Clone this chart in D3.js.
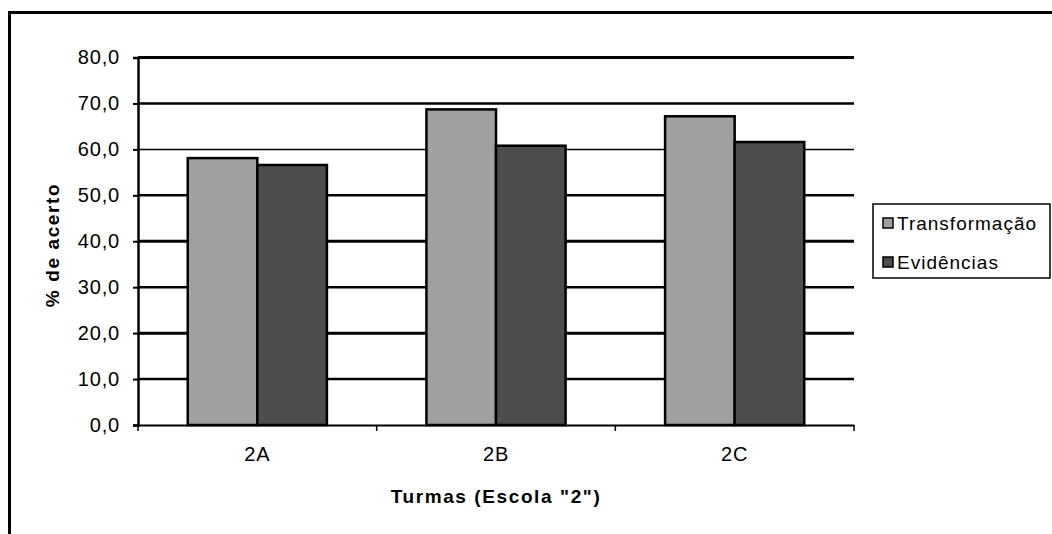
<!DOCTYPE html>
<html>
<head>
<meta charset="utf-8">
<script src="https://cdn.jsdelivr.net/npm/d3@7"></script>
<style>
  body { margin: 0; background: #fff; }
  text { font-family: "Liberation Sans", Arial, sans-serif; }
</style>
</head>
<body>
<div id="chart"></div>
<script>
const turmas = ["2A", "2B", "2C"];
const series = ["Transformação", "Evidências"];
const transformacao = [58.1, 68.7, 67.2];
const evidencias = [56.6, 60.8, 61.6];
const yTicks = [0, 10, 20, 30, 40, 50, 60, 70, 80];

const colors = { "Transformação": "#a0a0a0", "Evidências": "#4d4d4d" };

const W = 1052, H = 534;
const margin = { top: 57.5, right: 198, bottom: 109, left: 138 };
const width = W - margin.left - margin.right,
  height = H - margin.top - margin.bottom;

const svg = d3.select("#chart").append("svg")
  .attr("width", W).attr("height", H);

// outer frame (only top and left edges visible)
svg.append("rect")
  .attr("x", 9.5).attr("y", 12.5)
  .attr("width", 1200).attr("height", 700)
  .attr("fill", "none").attr("stroke", "#000").attr("stroke-width", 3);

const g = svg.append("g")
  .attr("transform", "translate(" + margin.left + "," + margin.top + ")");

const y = d3.scaleLinear().domain([0, 80]).range([height, 0]);
const x0 = d3.scaleBand().domain(turmas).range([0, width]).padding(0);
const x1 = d3.scaleBand().domain(series).range([0, x0.bandwidth()])
  .paddingInner(0).paddingOuter(0.715);

// gridlines
g.append("g").selectAll("line")
  .data(yTicks.filter((d) => d > 0))
  .enter().append("line")
  .attr("x1", 0).attr("x2", width)
  .attr("y1", (d) => y(d)).attr("y2", (d) => y(d))
  .attr("stroke", "#000")
  .attr("stroke-width", (d) => (d === 60 ? 1.5 : d % 20 === 0 ? 3 : 2.5));

// bars
const rows = turmas.map((t, i) => ({
  turma: t,
  vals: [
    { key: series[0], value: transformacao[i] },
    { key: series[1], value: evidencias[i] },
  ],
}));

g.append("g").selectAll("g")
  .data(rows).enter().append("g")
  .attr("transform", (d) => "translate(" + x0(d.turma) + ",0)")
  .selectAll("rect")
  .data((d) => d.vals).enter().append("rect")
  .attr("x", (d) => x1(d.key))
  .attr("y", (d) => y(d.value))
  .attr("width", x1.bandwidth())
  .attr("height", (d) => height - y(d.value))
  .attr("fill", (d) => colors[d.key])
  .attr("stroke", "#000").attr("stroke-width", 2.5);

// y axis
const yAxis = g.append("g")
  .call(d3.axisLeft(y).tickValues(yTicks).tickSize(5).tickPadding(13)
    .tickFormat((d) => d3.format(".1f")(d).replace(".", ",")));
yAxis.select(".domain").attr("stroke-width", 2.5);
yAxis.selectAll(".tick line").attr("stroke-width", 2);
yAxis.selectAll("text")
  .attr("font-size", 20).attr("fill", "#000")
  .style("letter-spacing", "0.8px");

// x axis
const xAxis = g.append("g")
  .attr("transform", "translate(0," + height + ")")
  .call(d3.axisBottom(x0).tickSize(0).tickPadding(22));
xAxis.select(".domain").attr("stroke-width", 2);
xAxis.selectAll("text")
  .attr("font-size", 20).attr("fill", "#000")
  .style("letter-spacing", "0.8px");
// category boundary ticks
xAxis.append("g").selectAll("line")
  .data(turmas.map((t) => x0(t)).concat([width]))
  .enter().append("line")
  .attr("x1", (d) => d).attr("x2", (d) => d)
  .attr("y1", 0).attr("y2", 6)
  .attr("stroke", "#000").attr("stroke-width", 1.5);

// axis titles
svg.append("text")
  .attr("x", margin.left + width / 2).attr("y", 503)
  .attr("text-anchor", "middle")
  .attr("font-size", 19).attr("font-weight", "bold")
  .style("letter-spacing", "1.6px")
  .text('Turmas (Escola "2")');

svg.append("text")
  .attr("transform", "translate(59,245) rotate(-90)")
  .attr("text-anchor", "middle")
  .attr("font-size", 19).attr("font-weight", "bold")
  .style("letter-spacing", "1.6px")
  .text("% de acerto");

// legend
const legend = svg.append("g").attr("transform", "translate(873,204)");
legend.append("rect")
  .attr("width", 177).attr("height", 74)
  .attr("fill", "#fff").attr("stroke", "#000").attr("stroke-width", 1.5);
const items = legend.selectAll("g.item")
  .data(series).enter().append("g")
  .attr("class", "item")
  .attr("transform", (d, i) => "translate(0," + (19 + i * 39) + ")");
items.append("rect")
  .attr("x", 10).attr("y", -5)
  .attr("width", 10).attr("height", 10)
  .attr("fill", (d) => colors[d])
  .attr("stroke", "#000").attr("stroke-width", 1.5);
items.append("text")
  .attr("x", 24).attr("y", 0).attr("dy", "0.35em")
  .attr("font-size", 19)
  .style("letter-spacing", "1px")
  .text((d) => d);
</script>
</body>
</html>
